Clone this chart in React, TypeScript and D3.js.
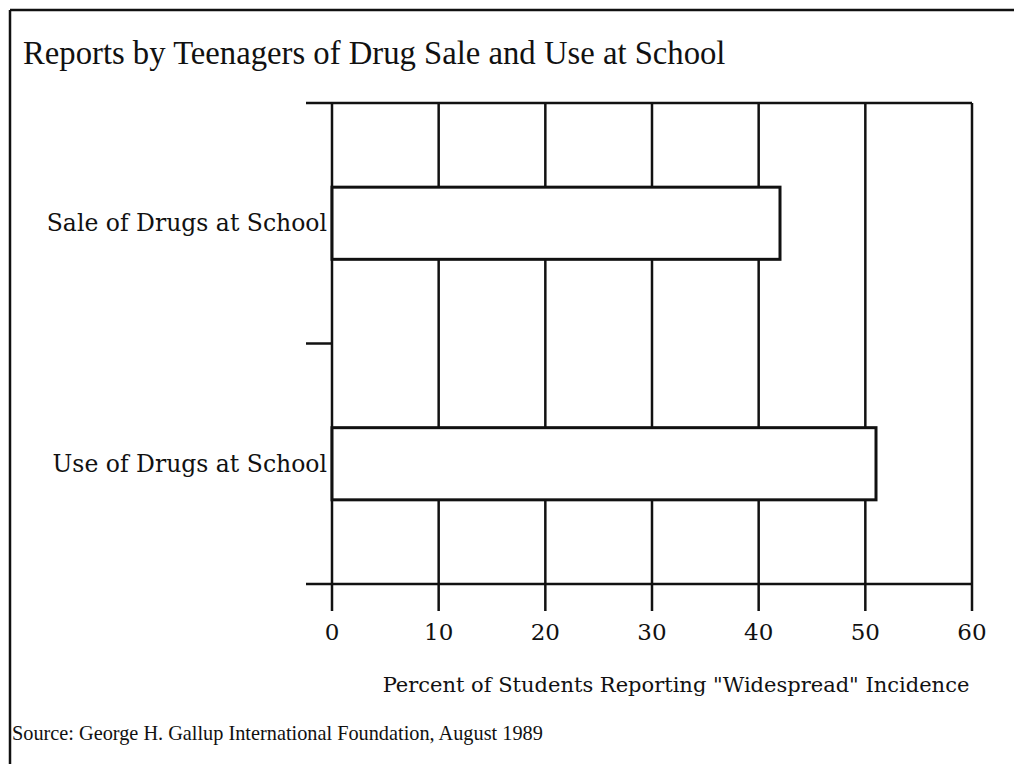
import React from "react";
import * as d3 from "d3";

const title = "Reports by Teenagers of Drug Sale and Use at School";
const categories = ["Sale of Drugs at School", "Use of Drugs at School"];
const values = [42, 51];
const xTicks = [0, 10, 20, 30, 40, 50, 60];
const xAxisTitle = 'Percent of Students Reporting "Widespread" Incidence';
const source = "Source: George H. Gallup International Foundation, August 1989";

const W = 1014;
const H = 764;
const M = { left: 332, right: 42, top: 103, bottom: 180 };

export default function App() {
  const x = d3.scaleLinear().domain([0, 60]).range([M.left, W - M.right]);
  const y = d3.scaleBand().domain(categories).range([M.top, H - M.bottom]).padding(0);
  const barH = y.bandwidth() * 0.3;
  const y0 = M.top;
  const y1 = H - M.bottom;
  const tickOut = 26;
  const labelFont = "'DejaVu Serif', serif";
  const boundaries = [y0, ...categories.map((c) => (y(c) as number) + y.bandwidth())];

  return (
    <svg width={W} height={H} style={{ position: "absolute", left: 0, top: 0, background: "#fff" }}>
      <rect x={0} y={0} width={W} height={H} fill="#fff" />
      {/* frame */}
      <line x1={10} y1={10} x2={W} y2={10} stroke="#111" strokeWidth={2.5} />
      <line x1={10} y1={10} x2={10} y2={H} stroke="#111" strokeWidth={2.5} />
      <text x={23} y={64} fontFamily="'Liberation Serif', serif" fontSize={32.7} fill="#111">
        {title}
      </text>
      {/* vertical gridlines + ticks */}
      {xTicks.map((t) => (
        <g key={t}>
          <line x1={x(t)} x2={x(t)} y1={y0} y2={y1 + 27} stroke="#111" strokeWidth={2.5} />
          <text x={x(t)} y={640} textAnchor="middle" fontFamily={labelFont} fontSize={23} fill="#111">
            {t}
          </text>
        </g>
      ))}
      {/* horizontal lines: top, boundaries */}
      {boundaries.map((b, i) => (
        <line
          key={i}
          x1={M.left - tickOut}
          x2={i === 1 ? M.left : x(60)}
          y1={b}
          y2={b}
          stroke="#111"
          strokeWidth={2.5}
        />
      ))}
      {/* bars */}
      {categories.map((c, i) => {
        const cy = (y(c) as number) + y.bandwidth() / 2;
        return (
          <g key={c}>
            <rect
              x={x(0)}
              y={cy - barH / 2}
              width={x(values[i]) - x(0)}
              height={barH}
              fill="#fff"
              stroke="#111"
              strokeWidth={3}
            />
            <text x={M.left - 5} y={cy + 8} textAnchor="end" fontFamily={labelFont} fontSize={23.5} fill="#111">
              {c}
            </text>
          </g>
        );
      })}
      <text x={676} y={692} textAnchor="middle" fontFamily={labelFont} fontSize={21} fill="#111">
        {xAxisTitle}
      </text>
      <text x={12} y={740} fontFamily="'Liberation Serif', serif" fontSize={20.3} fill="#111">
        {source}
      </text>
    </svg>
  );
}
